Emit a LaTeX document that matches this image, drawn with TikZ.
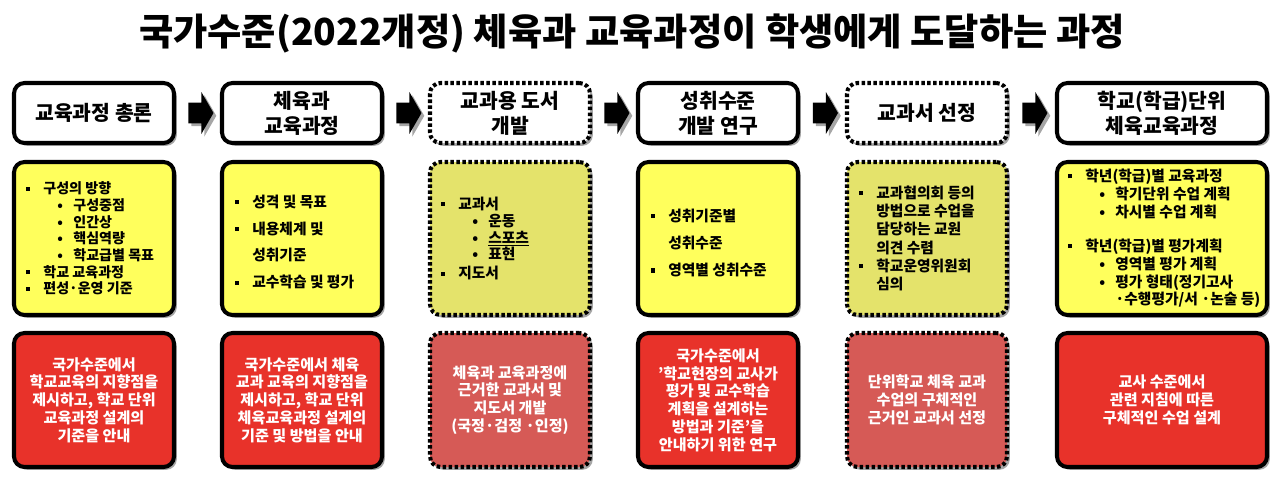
\documentclass[tikz,border=0pt]{standalone}
\usepackage{fontspec}
\setmainfont{Noto Sans CJK KR}[BoldFont={Noto Sans CJK KR Black}]
\usetikzlibrary{calc,shapes.arrows,shadows}
\definecolor{lemon}{HTML}{FFFF5C}
\definecolor{olivey}{HTML}{E4E36B}
\definecolor{scarlet}{HTML}{E8322A}
\definecolor{brick}{HTML}{D65A56}
\tikzset{softshadow/.style={drop shadow={shadow xshift=1.6pt,shadow yshift=-1.6pt,opacity=.35,fill=black}},
  stage/.style={draw,line width=2.3pt,rounded corners=6pt,fill=white,minimum width=3.2cm,minimum height=1.2cm,inner sep=0pt,align=center,softshadow,font=\bfseries\fontsize{11.6}{14.2}\selectfont},
  dashline/.style={dash pattern=on 2pt off 1.4pt},
  note/.style={stage,fill=lemon,minimum height=3.06cm},
  goal/.style={stage,fill=scarlet,minimum height=2.68cm,text=white,font=\bfseries\fontsize{8.6}{10.1}\selectfont},
  listtext/.style={anchor=west,align=left,inner sep=0pt,font=\bfseries\fontsize{8.4}{10.2}\selectfont},
  flowarrow/.style={single arrow,fill=black,inner sep=0pt,inner ysep=.2cm,minimum height=.5cm,single arrow head extend=.21cm,single arrow tip angle=120,softshadow}}
\newcommand{\sq}{\makebox[.34cm][l]{\rule[.22em]{2.3pt}{2.3pt}}}
\newcommand{\dt}{\hspace*{.62cm}\makebox[.32cm][l]{•}}
\newcommand{\cn}{\hspace*{.34cm}}

\begin{document}
\begin{tikzpicture}
\useasboundingbox (0,0) rectangle (25.6,-9.78);
\node (title) at (12.64,-.66) {\bfseries\fontsize{21.2}{24}\selectfont 국가수준(2022개정) 체육과 교육과정이 학생에게 도달하는 과정};
% stages
\node[stage] (s1) at (1.88,-2.26) {교육과정 총론};
\node[stage] (s2) at (6.04,-2.26) {체육과\\교육과정};
\node[stage,dashline] (s3) at (10.2,-2.26) {교과용 도서\\개발};
\node[stage] (s4) at (14.36,-2.26) {성취수준\\개발 연구};
\node[stage,dashline] (s5) at (18.54,-2.26) {교과서 선정};
\node[stage,minimum width=4.2cm] (s6) at (23.24,-2.26) {학교(학급)단위\\체육교육과정};
\foreach \a/\b in {1/2,2/3,3/4,4/5,5/6}
  \node[flowarrow] (a\a) at ($(s\a.east)!.5!(s\b.west)$) {};
% contents
\node[note] (c1) at (1.88,-4.77) {};
\node[note] (c2) at (6.04,-4.77) {};
\node[note,dashline,fill=olivey] (c3) at (10.2,-4.77) {};
\node[note] (c4) at (14.36,-4.77) {};
\node[note,dashline,fill=olivey] (c5) at (18.54,-4.77) {};
\node[note,minimum width=4.2cm] (c6) at (23.24,-4.77) {};
\node[listtext,font=\bfseries\fontsize{8}{9.5}\selectfont] (l1) at ($(c1.west)+(.28,0)$)
  {\sq 구성의 방향\\\dt 구성중점\\\dt 인간상\\\dt 핵심역량\\\dt 학교급별 목표\\\sq 학교 교육과정\\\sq 편성·운영 기준};
\node[listtext,font=\bfseries\fontsize{8.4}{15.3}\selectfont] (l2) at ($(c2.west)+(.3,-.07)$)
  {\sq 성격 및 목표\\\sq 내용체계 및\\\cn 성취기준\\\sq 교수학습 및 평가};
\node[listtext,font=\bfseries\fontsize{8.4}{9.2}\selectfont] (l3) at ($(c3.west)+(.26,0)$)
  {\sq 교과서\\[1pt]\dt 운동\\\dt \underline{스포츠}\\\dt 표현\\[2pt]\sq 지도서};
\node[listtext,font=\bfseries\fontsize{8.4}{15.5}\selectfont] (l4) at ($(c4.west)+(.3,-.09)$)
  {\sq 성취기준별\\\cn 성취수준\\\sq 영역별 성취수준};
\node[listtext,font=\bfseries\fontsize{8.4}{10.4}\selectfont] (l5) at ($(c5.west)+(.28,0)$)
  {\sq 교과협의회 등의\\\cn 방법으로 수업을\\\cn 담당하는 교원\\\cn 의견 수렴\\\sq 학교운영위원회\\\cn 심의};
\node[listtext] (l6) at ($(c6.west)+(.26,0)$)
  {\sq 학년(학급)별 교육과정\\\dt 학기단위 수업 계획\\\dt 차시별 수업 계획\\[9pt]\sq 학년(학급)별 평가계획\\\dt 영역별 평가 계획\\\dt 평가 형태(정기고사\\\hspace*{.94cm}·수행평가/서 ·논술 등)};
% goals
\node[goal] (g1) at (1.88,-8) {국가수준에서\\학교교육의 지향점을\\제시하고, 학교 단위\\교육과정 설계의\\기준을 안내};
\node[goal] (g2) at (6.04,-8) {국가수준에서 체육\\교과 교육의 지향점을\\제시하고, 학교 단위\\체육교육과정 설계의\\기준 및 방법을 안내};
\node[goal,dashline,fill=brick] (g3) at (10.2,-8) {체육과 교육과정에\\근거한 교과서 및\\지도서 개발\\(국정·검정 ·인정)};
\node[goal] (g4) at (14.36,-8) {국가수준에서\\’학교현장의 교사가\\평가 및 교수학습\\계획을 설계하는\\방법과 기준’을\\안내하기 위한 연구};
\node[goal,dashline,fill=brick] (g5) at (18.54,-8) {단위학교 체육 교과\\수업의 구체적인\\근거인 교과서 선정};
\node[goal,minimum width=4.2cm] (g6) at (23.24,-8) {교사 수준에서\\관련 지침에 따른\\구체적인 수업 설계};
\end{tikzpicture}
\end{document}
